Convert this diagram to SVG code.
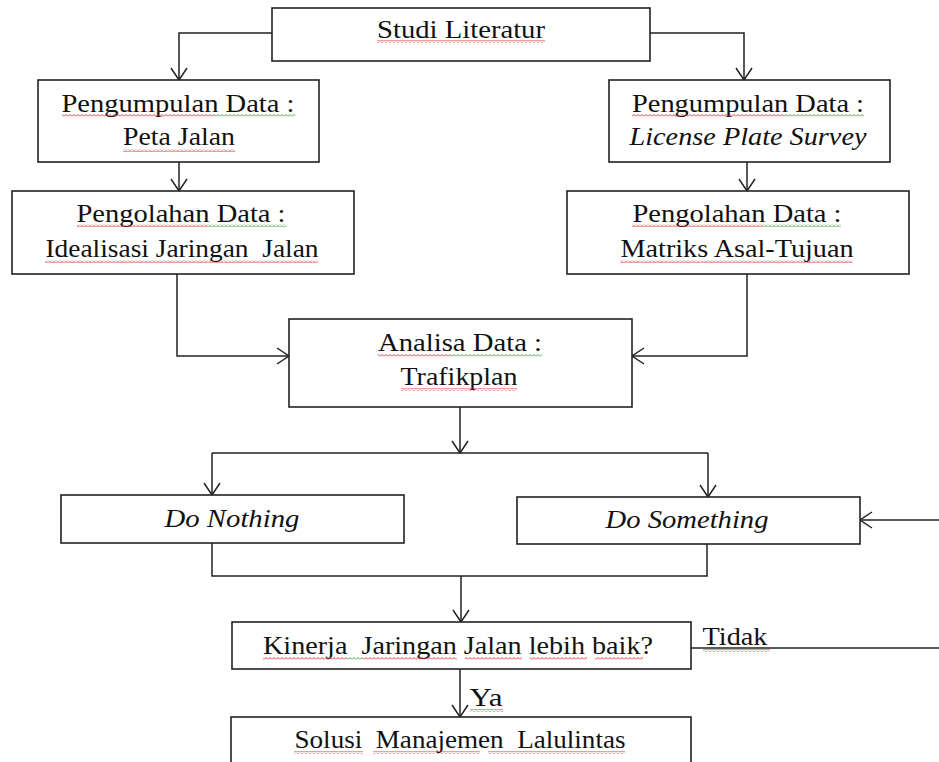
<svg xmlns="http://www.w3.org/2000/svg" width="939" height="762" viewBox="0 0 939 762">
<style>
.box{fill:#fff;stroke:#222;stroke-width:1.6}
.t{font-family:"Liberation Serif","Times New Roman",serif;font-size:26px;fill:#111;text-anchor:middle}
.i{font-style:italic}
.c{fill:none;stroke:#222;stroke-width:1.5}
.a{marker-end:url(#arr)}
.r{fill:url(#wr)}
.g{fill:url(#wg)}
</style>
<defs>
<marker id="arr" markerUnits="userSpaceOnUse" markerWidth="14" markerHeight="18" viewBox="0 0 14 18" refX="13" refY="9" orient="auto">
<path d="M1,1 L13,9 L1,17" fill="none" stroke="#222" stroke-width="1.5"/>
</marker>
<pattern id="wr" patternUnits="userSpaceOnUse" width="4" height="3">
<polyline points="0,2.5 2,0.5 4,2.5" fill="none" stroke="#e02020" stroke-width="0.9"/>
</pattern>
<pattern id="wg" patternUnits="userSpaceOnUse" width="4" height="3">
<polyline points="0,2.5 2,0.5 4,2.5" fill="none" stroke="#30a030" stroke-width="0.9"/>
</pattern>
</defs>

<g id="connectors">
<path class="c a" d="M272,33 H179 V80"/>
<path class="c a" d="M650,33 H744 V80"/>
<path class="c a" d="M179,162 V191"/>
<path class="c a" d="M747,162 V191"/>
<path class="c a" d="M177,274 V356 H289"/>
<path class="c a" d="M747,274 V356 H632"/>
<path class="c a" d="M460,407 V453"/>
<path class="c" d="M212,453 H708"/>
<path class="c a" d="M212,453 V495"/>
<path class="c a" d="M708,453 V497"/>
<path class="c" d="M212,543 V576 H707 V544"/>
<path class="c a" d="M461,576 V622"/>
<path class="c a" d="M460,669 V717"/>
<path class="c" d="M691,648 H939"/>
<path class="c a" d="M939,520 H860"/>
</g>

<g id="studi">
<rect class="box" x="272" y="8" width="378" height="53"/>
<text class="t" x="461" y="38" textLength="168" lengthAdjust="spacingAndGlyphs">Studi Literatur</text>
<rect class="r" x="377" y="40" width="168" height="3"/>
</g>

<g id="pengumpulan-peta">
<rect class="box" x="38" y="80" width="281" height="82"/>
<text class="t" x="178" y="112" textLength="233" lengthAdjust="spacingAndGlyphs">Pengumpulan Data :</text>
<text class="t" x="179" y="145" textLength="112" lengthAdjust="spacingAndGlyphs">Peta Jalan</text>
<rect class="r" x="62" y="114" width="153" height="3"/>
<rect class="g" x="215" y="114" width="80" height="3"/>
<rect class="r" x="123" y="149" width="112" height="3"/>
</g>

<g id="pengolahan-idealisasi">
<rect class="box" x="12" y="191" width="342" height="83"/>
<text class="t" x="181" y="222" textLength="209" lengthAdjust="spacingAndGlyphs">Pengolahan Data :</text>
<text class="t" x="182" y="257" textLength="273" lengthAdjust="spacingAndGlyphs" xml:space="preserve">Idealisasi Jaringan  Jalan</text>
<rect class="r" x="77" y="224" width="130" height="3"/>
<rect class="g" x="207" y="224" width="79" height="3"/>
<rect class="r" x="45" y="260" width="273" height="3"/>
</g>

<g id="pengumpulan-lps">
<rect class="box" x="609" y="80" width="281" height="82"/>
<text class="t" x="748" y="112" textLength="232" lengthAdjust="spacingAndGlyphs">Pengumpulan Data :</text>
<text class="t i" x="748" y="145" textLength="237" lengthAdjust="spacingAndGlyphs">License Plate Survey</text>
<rect class="r" x="632" y="114" width="153" height="3"/>
<rect class="g" x="785" y="114" width="79" height="3"/>
</g>

<g id="pengolahan-matriks">
<rect class="box" x="567" y="191" width="342" height="83"/>
<text class="t" x="737" y="222" textLength="209" lengthAdjust="spacingAndGlyphs">Pengolahan Data :</text>
<text class="t" x="737" y="257" textLength="233" lengthAdjust="spacingAndGlyphs">Matriks Asal-Tujuan</text>
<rect class="r" x="632" y="224" width="131" height="3"/>
<rect class="g" x="763" y="224" width="78" height="3"/>
<rect class="r" x="620" y="260" width="233" height="3"/>
</g>

<g id="analisa">
<rect class="box" x="289" y="319" width="343" height="88"/>
<text class="t" x="460" y="351" textLength="164" lengthAdjust="spacingAndGlyphs">Analisa Data :</text>
<text class="t" x="459" y="385" textLength="117" lengthAdjust="spacingAndGlyphs">Trafikplan</text>
<rect class="r" x="378" y="354" width="72" height="3"/>
<rect class="g" x="450" y="354" width="92" height="3"/>
<rect class="r" x="401" y="388" width="116" height="3"/>
</g>

<g id="do-nothing">
<rect class="box" x="61" y="495" width="343" height="48"/>
<text class="t i" x="232" y="527" textLength="135" lengthAdjust="spacingAndGlyphs">Do Nothing</text>
</g>

<g id="do-something">
<rect class="box" x="517" y="497" width="343" height="47"/>
<text class="t i" x="687" y="528" textLength="163" lengthAdjust="spacingAndGlyphs">Do Something</text>
</g>

<g id="kinerja">
<rect class="box" x="232" y="622" width="459" height="47"/>
<text class="t" x="458" y="654" textLength="390" lengthAdjust="spacingAndGlyphs" xml:space="preserve">Kinerja  Jaringan Jalan lebih baik?</text>
<rect class="r" x="263" y="657" width="84" height="3"/>
<rect class="g" x="347" y="657" width="16" height="3"/>
<rect class="r" x="363" y="657" width="94" height="3"/>
<rect class="r" x="465" y="657" width="57" height="3"/>
<rect class="r" x="530" y="657" width="57" height="3"/>
<rect class="r" x="595" y="657" width="48" height="3"/>
</g>

<g id="label-ya">
<text class="t" x="486" y="706" textLength="33" lengthAdjust="spacingAndGlyphs">Ya</text>
<rect class="r" x="470" y="709" width="33" height="3"/>
</g>

<g id="label-tidak">
<text class="t" x="735" y="645" textLength="65" lengthAdjust="spacingAndGlyphs">Tidak</text>
<rect class="r" x="703" y="649" width="67" height="3"/>
</g>

<g id="solusi">
<rect class="box" x="231" y="717" width="460" height="60"/>
<text class="t" x="460" y="748" textLength="331" lengthAdjust="spacingAndGlyphs" xml:space="preserve">Solusi  Manajemen  Lalulintas</text>
<rect class="r" x="294" y="751" width="69" height="3"/>
<rect class="r" x="373" y="751" width="107" height="3"/>
<rect class="r" x="488" y="751" width="137" height="3"/>
</g>
</svg>
